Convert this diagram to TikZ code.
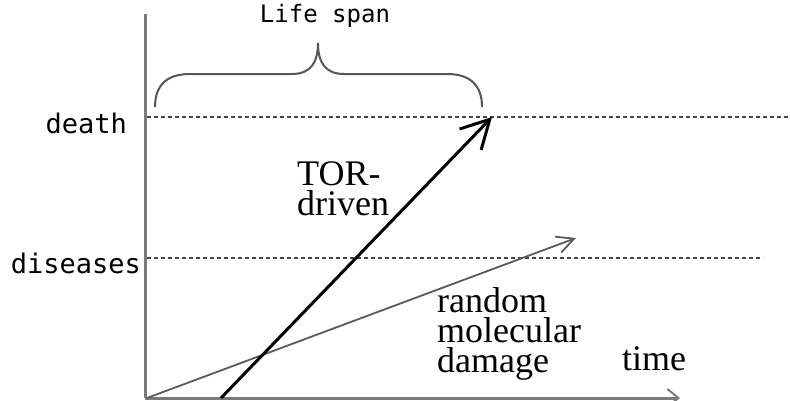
\documentclass[tikz,border=0pt]{standalone}
\usepackage{fontspec}
\setmainfont{Liberation Serif}
\newfontfamily\gothic{DejaVu Sans Mono}
\usetikzlibrary{arrows.meta}
\definecolor{axisgray}{HTML}{7A7A7A}
\definecolor{dashgray}{HTML}{444444}
\definecolor{rndgray}{HTML}{5A5A5A}
\definecolor{bracegray}{HTML}{555555}
\tikzset{
  axisline/.style={draw=axisgray, line width=3pt},
  levelline/.style={draw=dashgray, line width=1.4pt, dash pattern=on 4pt off 3pt},
  torarrow/.style={draw=black, line width=3pt, -{Straight Barb[length=28pt,width=30pt,line width=3pt]}},
  rndarrow/.style={draw=rndgray, line width=1.8pt, -{Straight Barb[length=17pt,width=17pt,line width=1.8pt]}},
  gothlabel/.style={inner sep=0pt, font=\gothic\fontsize{27}{27}\selectfont, text=black},
  serlabel/.style={inner sep=0pt, align=left, font=\fontsize{36}{30}\selectfont, text=black},
  bracestyle/.style={draw=bracegray, line width=2pt}
}
\begin{document}
\begin{tikzpicture}[x=1pt,y=-1pt]
\useasboundingbox (0,0) rectangle (790,400);
% coordinates
\coordinate (O) at (145,398);
\coordinate (ytop) at (145,14);
\coordinate (xend) at (680,398);
\coordinate (deathL) at (147,117);
\coordinate (deathR) at (790,117);
\coordinate (disL) at (147,258);
\coordinate (disR) at (763,258);
\coordinate (torS) at (221,398);
\coordinate (torE) at (492,117);
\coordinate (rndS) at (147,398);
\coordinate (rndE) at (576,238);
% level lines
\draw[levelline] (deathL) -- (deathR);
\draw[levelline] (disL) -- (disR);
% axes
\draw[axisline] (ytop) -- (O);
\draw[axisline, -{Straight Barb[length=11pt,width=18pt,line width=2pt]}] (O) -- (xend);
% arrows
\draw[rndarrow] (rndS) -- (rndE);
\draw[torarrow] (torS) -- (torE);
% brace
\draw[bracestyle] (155,107) .. controls (155,86) and (166,74) .. (190,74) -- (292,74)
  .. controls (311,74) and (318,62) .. (318,43)
  .. controls (318,62) and (325,74) .. (344,74) -- (447,74)
  .. controls (471,74) and (482,86) .. (482,107);
% labels
\node[gothlabel, anchor=base, font=\gothic\fontsize{24}{24}\selectfont] (lifespan) at (325,22) {Life span};
\node[gothlabel, anchor=base east] (death) at (127,133) {death};
\node[gothlabel, anchor=base east] (diseases) at (141,273) {diseases};
\node[serlabel, anchor=base west] (tor) at (297,215) {TOR-\\driven};
\node[serlabel, anchor=base west] (rnd) at (437,372) {random\\molecular\\damage};
\node[serlabel, anchor=base west] (time) at (622,370) {time};
\end{tikzpicture}
\end{document}
